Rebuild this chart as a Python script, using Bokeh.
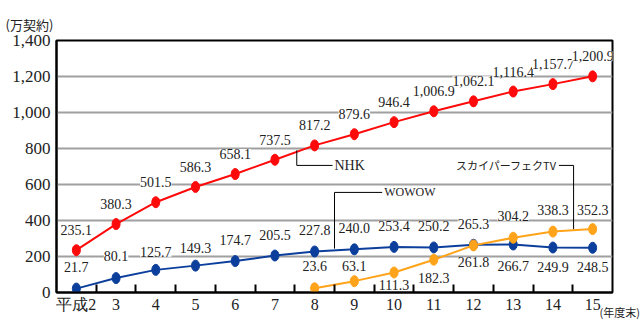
from bokeh.plotting import figure
from bokeh.models import (Range1d, FixedTicker, Label, LabelSet, ColumnDataSource,
                          LinearAxis, Title)
from bokeh.embed import file_html
from bokeh.resources import INLINE

# ---- data ----
years = ['平成2', '3', '4', '5', '6', '7', '8', '9', '10', '11', '12', '13', '14', '15']
nhk = [235.1, 380.3, 501.5, 586.3, 658.1, 737.5, 817.2, 879.6, 946.4, 1006.9, 1062.1, 1116.4, 1157.7, 1200.9]
wowow = [21.7, 80.1, 125.7, 149.3, 174.7, 205.5, 227.8, 240.0, 253.4, 250.2, 265.3, 266.7, 249.9, 248.5]
sky_years = ['8', '9', '10', '11', '12', '13', '14', '15']
sky = [23.6, 63.1, 111.3, 182.3, 261.8, 304.2, 338.3, 352.3]
y_ticks = [0, 200, 400, 600, 800, 1000, 1200, 1400]

# label offsets in px (positive = above the point, negative = below)
nhk_off = [20] * 14
wowow_off = [22, 22, 18, 18, 21, 21, 21, 21, 21, 21, 21, -22, -19, -19]
sky_off = [22, 15, -13, -18, -17, 22, 22, 19]

NUM_FONT = "Liberation Sans Narrow"
JP_FONT = "Noto Sans CJK JP"
TXT = "#222222"
RED = "#ff0a0a"
BLUE = "#0c3f9c"
ORANGE = "#ffa31a"

p = figure(width=642, height=320, output_backend="svg", toolbar_location=None,
           x_range=Range1d(-0.5, len(years) - 0.5), y_range=Range1d(0, 1400),
           min_border_left=56, min_border_right=29, min_border_top=40, min_border_bottom=28)
p.background_fill_color = "white"
p.border_fill_color = "white"
p.outline_line_color = "black"
p.outline_line_width = 2
p.xgrid.grid_line_color = None
p.ygrid.grid_line_color = "#a0a0a0"
p.ygrid.grid_line_width = 2
p.ygrid.ticker = FixedTicker(ticks=y_ticks)

xi = list(range(len(years)))
p.xaxis.ticker = FixedTicker(ticks=xi, minor_ticks=[i + 0.5 for i in xi[:-1]])
p.xaxis.major_label_overrides = {i: years[i] for i in xi}
p.xaxis.major_tick_in = 0
p.xaxis.major_tick_out = 0
p.xaxis.minor_tick_in = 8
p.xaxis.minor_tick_out = 0
p.xaxis.minor_tick_line_color = "black"
p.xaxis.minor_tick_line_width = 2
p.xaxis.major_label_standoff = 3

p.yaxis.ticker = FixedTicker(ticks=y_ticks)
p.yaxis.major_label_overrides = {t: f"{t:,}" for t in y_ticks}
p.yaxis.major_tick_in = 0
p.yaxis.major_tick_out = 0
p.yaxis.minor_tick_line_color = None
p.yaxis.major_label_standoff = 6

for ax in (p.xaxis[0], p.yaxis[0]):
    ax.axis_line_color = "black"
    ax.axis_line_width = 2
    ax.major_label_text_font = NUM_FONT
    ax.major_label_text_font_size = "17px"
    ax.major_label_text_color = TXT
p.xaxis.major_label_text_font_size = "16px"


def series(xs, ys, offs, color):
    src = ColumnDataSource(dict(x=xs, y=ys, txt=[f"{v:,.1f}" for v in ys], yo=offs))
    p.line('x', 'y', source=src, line_color=color, line_width=2)
    p.ellipse('x', 'y', source=src, width=8, height=11, width_units="screen",
              height_units="screen", fill_color=color, line_color=color)
    p.add_layout(LabelSet(x='x', y='y', text='txt', y_offset='yo', source=src,
                          text_align='center', text_baseline='middle',
                          text_font=NUM_FONT, text_font_size="14px", text_color=TXT,
                          background_fill_color="white"))


series(xi, nhk, nhk_off, RED)
series(xi, wowow, wowow_off, BLUE)
series([years.index(y) for y in sky_years], sky, sky_off, ORANGE)

# callouts
p.line([5.55, 5.55, 6.45], [790, 706, 706], line_color="black", line_width=1)
p.add_layout(Label(x=6.5, y=706, text="NHK", text_font=NUM_FONT, text_font_size="14px",
                   text_baseline='middle', text_color=TXT))
p.line([6.5, 6.5, 7.7], [244, 556, 556], line_color="black", line_width=1)
p.add_layout(Label(x=7.75, y=556, text="WOWOW", text_font=NUM_FONT, text_font_size="12px",
                   text_baseline='middle', text_color=TXT))
p.line([12.15, 12.52, 12.52], [706, 706, 352], line_color="black", line_width=1)
p.add_layout(Label(x=12.1, y=706, text="スカイパーフェクTV", text_font=JP_FONT, text_font_size="11px",
                   text_align='right', text_baseline='middle', text_color=TXT))

# unit label on the value axis (placed above the frame)
p.add_layout(Title(text="(万契約)", align="left", offset=-51, standoff=14,
                   text_font=JP_FONT, text_font_size="13px", text_font_style="normal",
                   text_color=TXT), "above")

# unit label after the last category (right axis carrying a single label at y=0)
p.extra_y_ranges = {"unit": Range1d(0, 1400)}
unit_ax = LinearAxis(y_range_name="unit", ticker=FixedTicker(ticks=[0]),
                     major_label_overrides={0: "\n\n(年度末)"},
                     axis_line_color=None, major_tick_line_color=None, minor_tick_line_color=None,
                     major_tick_in=0, major_tick_out=0, minor_tick_in=0, minor_tick_out=0,
                     major_label_standoff=-13, major_label_text_font=JP_FONT,
                     major_label_text_font_size="11px", major_label_text_color=TXT)
p.add_layout(unit_ax, "right")

open("out.html", "w").write(file_html(p, INLINE))
